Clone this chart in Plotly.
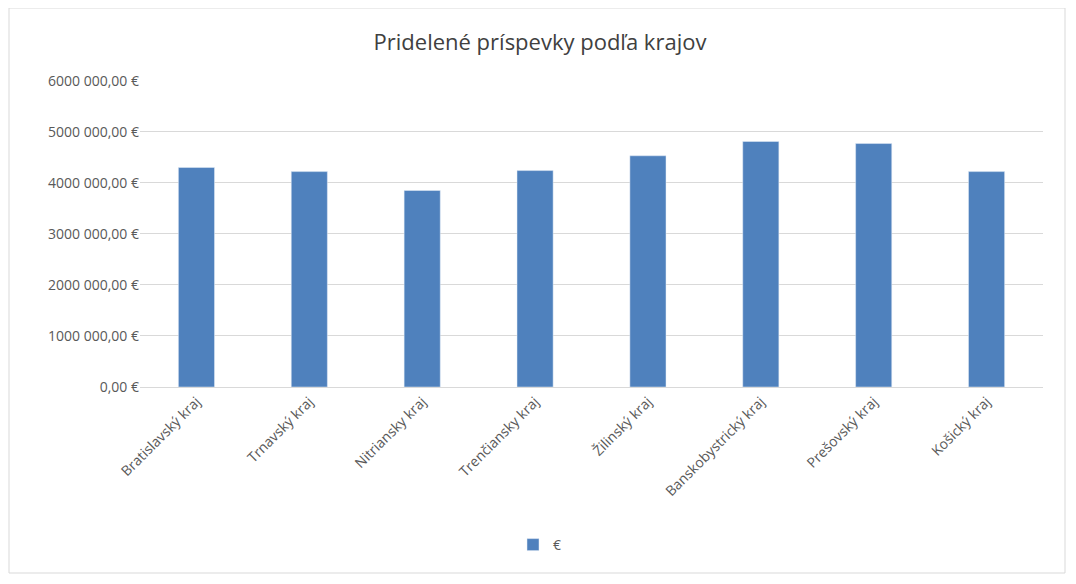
import plotly.graph_objects as go

regions = ["Bratislavský kraj", "Trnavský kraj", "Nitriansky kraj", "Trenčiansky kraj",
           "Žilinský kraj", "Banskobystrický kraj", "Prešovský kraj", "Košický kraj"]
values = [4300000, 4220000, 3850000, 4240000, 4530000, 4810000, 4770000, 4220000]
tick_vals = [0, 1000000, 2000000, 3000000, 4000000, 5000000, 6000000]
tick_text = ["0,00 €", "1000 000,00 €", "2000 000,00 €", "3000 000,00 €",
             "4000 000,00 €", "5000 000,00 €", "6000 000,00 €"]

W, H = 1076, 584
OFF = 8  # page offset
L, R, T, B = 140 - OFF, 33 + OFF, 80 - OFF, 197 + OFF
PW, PH = W - L - R, H - T - B

fig = go.Figure(go.Bar(x=regions, y=values, name="€", marker_color="#4f81bd", width=0.32))
fig.update_layout(
    width=W, height=H,
    margin=dict(l=L, r=R, t=T, b=B),
    paper_bgcolor="white", plot_bgcolor="white",
    font=dict(family="Open Sans, Liberation Sans, sans-serif", color="#595959", size=14),
    title=dict(text="Pridelené príspevky podľa krajov", x=(540 - OFF) / W, xanchor="center",
               y=1 - (42 - OFF) / H, yanchor="middle", font=dict(size=22, color="#404040")),
    showlegend=True,
    legend=dict(orientation="h", x=(540 - OFF - L) / PW, xanchor="center",
                y=-(545 - 387) / PH, yanchor="middle", font=dict(size=14, color="#595959")),
    yaxis=dict(range=[0, 6015000], tickvals=tick_vals, ticktext=tick_text,
               gridcolor="#d9d9d9", zeroline=False, showline=False, ticks="", fixedrange=True),
    xaxis=dict(tickangle=-45, showline=True, linecolor="#d9d9d9", ticks=""),
    shapes=[dict(type="rect", xref="paper", yref="paper",
                 x0=-(140 - 9) / PW, x1=(1065 - 140) / PW,
                 y0=-(573 - 387) / PH, y1=(387 - 8) / PH,
                 line=dict(color="#d9d9d9", width=1))],
)
fig.write_html("out.html")
